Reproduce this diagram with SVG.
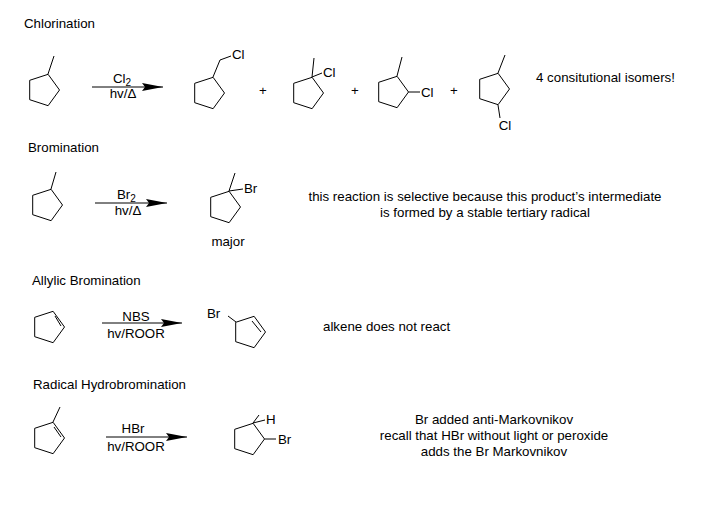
<svg xmlns="http://www.w3.org/2000/svg" width="703" height="518" viewBox="0 0 703 518">
<style>
text{font-family:"Liberation Sans",Arial,sans-serif;font-size:13.3px;fill:#000}
.s{font-size:10px}
.l{fill:none;stroke:#000;stroke-width:1}
.c{text-anchor:middle}
</style>
<defs>
<path id="r" class="l" d="M16.5,0L5.1,15.7L-13.3,9.7L-13.3,-9.7L5.1,-15.7Z"/>
<marker id="a" markerWidth="22" markerHeight="8" refX="21" refY="4" orientation="auto" markerUnits="userSpaceOnUse"><path d="M0,0L21,4L0,8L3,4Z" fill="#000"/></marker>
</defs>
<rect width="703" height="518" fill="#fff"/>
<text x="24" y="28">Chlorination</text>
<text x="28" y="152">Bromination</text>
<text x="32" y="285">Allylic Bromination</text>
<text x="33" y="389">Radical Hydrobromination</text>

<g id="connectors">
<line class="l" x1="92" y1="87" x2="163" y2="87" marker-end="url(#a)"/>
<line class="l" x1="95" y1="203" x2="167" y2="203" marker-end="url(#a)"/>
<line class="l" x1="102" y1="323" x2="182" y2="323" marker-end="url(#a)"/>
<line class="l" x1="106" y1="437" x2="187" y2="437" marker-end="url(#a)"/>
</g>

<g id="cl-sm"><use href="#r" x="43" y="90"/><line class="l" x1="48" y1="74" x2="54" y2="56"/></g>
<g id="cl-reagent"><text x="113" y="83">Cl<tspan class="s" dy="3">2</tspan></text><text x="123" y="98" class="c">hv/Δ</text></g>
<g id="cl-p1"><use href="#r" x="208" y="93"/><path class="l" d="M213,77L220,60L231,56"/><text x="232" y="59">Cl</text></g>
<text x="263" y="95" class="c">+</text>
<g id="cl-p2"><use href="#r" x="307" y="93"/><line class="l" x1="312" y1="77" x2="314" y2="58"/><line class="l" x1="312" y1="77" x2="322" y2="73"/><text x="323" y="77">Cl</text></g>
<text x="355" y="95" class="c">+</text>
<g id="cl-p3"><use href="#r" x="392" y="92"/><line class="l" x1="397" y1="76" x2="402" y2="57"/><line class="l" x1="408.5" y1="92" x2="420" y2="92"/><text x="421" y="97">Cl</text></g>
<text x="454" y="95" class="c">+</text>
<g id="cl-p4"><use href="#r" x="493" y="89"/><line class="l" x1="498" y1="73" x2="505" y2="55"/><line class="l" x1="498" y1="105" x2="500" y2="118"/><text x="505" y="130" class="c">Cl</text></g>
<text x="536" y="82">4 consitutional isomers!</text>

<g id="br-sm"><use href="#r" x="46" y="205"/><line class="l" x1="51" y1="189" x2="56" y2="172"/></g>
<g id="br-reagent"><text x="117" y="199">Br<tspan class="s" dy="3">2</tspan></text><text x="128" y="215" class="c">hv/Δ</text></g>
<g id="br-p"><use href="#r" x="224" y="207"/><line class="l" x1="229" y1="191" x2="235" y2="173"/><line class="l" x1="229" y1="191" x2="243" y2="189"/><text x="244" y="193">Br</text><text x="228" y="246" class="c">major</text></g>
<text x="485" y="201" class="c">this reaction is selective because this product’s intermediate</text>
<text x="485" y="217" class="c">is formed by a stable tertiary radical</text>

<g id="ab-sm"><use href="#r" x="48" y="327"/><line class="l" x1="55" y1="316" x2="61" y2="326"/></g>
<g id="ab-reagent"><text x="136" y="321" class="c">NBS</text><text x="136" y="338" class="c">hv/ROOR</text></g>
<g id="ab-p"><use href="#r" x="249" y="332"/><line class="l" x1="252" y1="321" x2="261" y2="332"/><line class="l" x1="236" y1="322" x2="228" y2="316"/><text x="207" y="318">Br</text></g>
<text x="323" y="331">alkene does not react</text>

<g id="hb-sm"><use href="#r" x="48" y="438"/><line class="l" x1="53" y1="422" x2="60" y2="407"/><line class="l" x1="54" y1="427" x2="61" y2="437"/></g>
<g id="hb-reagent"><text x="133" y="433" class="c">HBr</text><text x="136" y="451" class="c">hv/ROOR</text></g>
<g id="hb-p"><use href="#r" x="248" y="439"/><line class="l" x1="253" y1="423" x2="259" y2="415"/><line class="l" x1="253" y1="423" x2="265" y2="420"/><text x="266" y="424">H</text><line class="l" x1="264.5" y1="439" x2="276" y2="439"/><text x="278" y="444">Br</text></g>
<text x="494" y="424" class="c">Br added anti-Markovnikov</text>
<text x="494" y="440" class="c">recall that HBr without light or peroxide</text>
<text x="494" y="456" class="c">adds the Br Markovnikov</text>
</svg>
